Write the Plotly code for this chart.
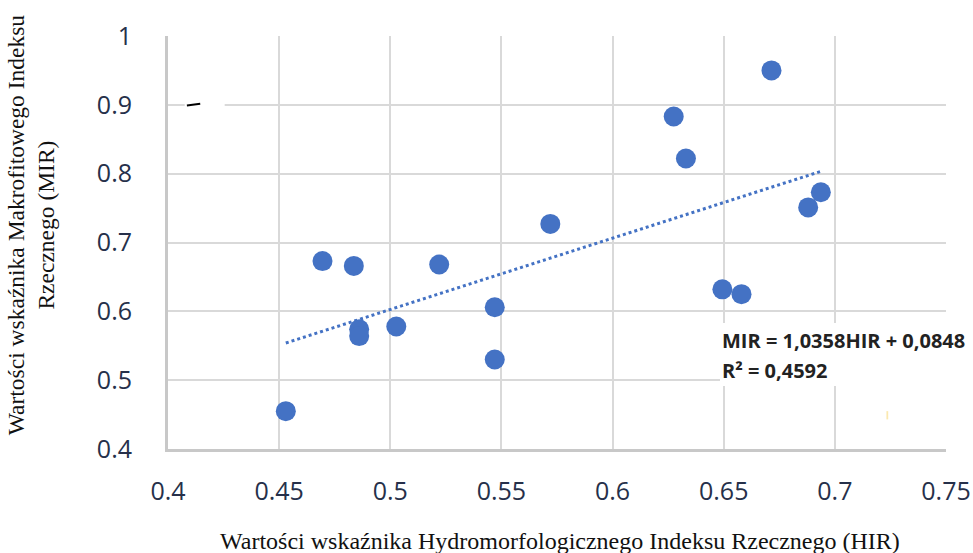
import plotly.graph_objects as go

# Data
hir = [0.453, 0.4695, 0.4836, 0.486, 0.486, 0.5027, 0.522, 0.547, 0.547, 0.572,
       0.6275, 0.633, 0.6494, 0.658, 0.6715, 0.688, 0.6937]
mir = [0.455, 0.673, 0.666, 0.574, 0.564, 0.578, 0.668, 0.606, 0.530, 0.727,
       0.883, 0.822, 0.632, 0.625, 0.950, 0.751, 0.773]

slope = 1.0358
intercept = 0.0848
eq_text = "MIR = 1,0358HIR + 0,0848"
r2_text = "R² = 0,4592"

x_ticks = [0.4, 0.45, 0.5, 0.55, 0.6, 0.65, 0.7, 0.75]
y_ticks = [0.4, 0.5, 0.6, 0.7, 0.8, 0.9, 1.0]
x_tick_labels = ["0.4", "0.45", "0.5", "0.55", "0.6", "0.65", "0.7", "0.75"]
y_tick_labels = ["0.4", "0.5", "0.6", "0.7", "0.8", "0.9", "1"]

x_title = "Wartości wskaźnika Hydromorfologicznego Indeksu Rzecznego (HIR)"
y_title = "Wartości wskaźnika Makrofitowego Indeksu<br>Rzecznego (MIR)"

blue = "#4472C4"
grid = "#d9d9d9"
tick_col = "#26304a"

x_min, x_max = min(hir), max(hir)
trend_x = [x_min, x_max]
trend_y = [slope * v + intercept for v in trend_x]

fig = go.Figure()
fig.add_trace(go.Scatter(
    x=trend_x, y=trend_y, mode="lines",
    line=dict(color=blue, width=3, dash="dot"),
    hoverinfo="skip", showlegend=False))
fig.add_trace(go.Scatter(
    x=hir, y=mir, mode="markers",
    marker=dict(color=blue, size=20, line=dict(width=0)),
    showlegend=False))

# white box behind the equation label (paper coordinates, may exceed plot)
fig.add_shape(type="rect", xref="paper", yref="paper",
              x0=(720 - 168) / 778, x1=(966 - 168) / 778,
              y0=(449 - 386) / 413, y1=(449 - 323) / 413,
              fillcolor="white", line=dict(width=0), layer="above")
# small artifacts of the original image
fig.add_shape(type="rect", xref="x", yref="y",
              x0=0.4075, x1=0.4255, y0=0.897, y1=0.903,
              fillcolor="white", line=dict(width=0), layer="above")
fig.add_shape(type="line", xref="x", yref="y",
              x0=0.4085, x1=0.4145, y0=0.899, y1=0.9015,
              line=dict(color="black", width=2), layer="above")
fig.add_shape(type="rect", xref="x", yref="y",
              x0=0.7232, x1=0.7240, y0=0.443, y1=0.455,
              fillcolor="#fbe9b0", line=dict(width=0), layer="above")

ann_x = (720 - 168) / 778
fig.add_annotation(x=ann_x, y=(449 - 340) / 413, xref="paper", yref="paper", text=eq_text,
                   showarrow=False, xanchor="left", yanchor="middle",
                   font=dict(family="Open Sans", size=20, color="#222222", weight="bold"))
fig.add_annotation(x=ann_x, y=(449 - 370) / 413, xref="paper", yref="paper", text=r2_text,
                   showarrow=False, xanchor="left", yanchor="middle",
                   font=dict(family="Open Sans", size=20, color="#222222", weight="bold"))

fig.add_annotation(x=-0.176, y=0.542, xref="paper", yref="paper", text=y_title,
                   showarrow=False, textangle=-90, xanchor="center", yanchor="middle",
                   font=dict(family="Liberation Serif", size=23.5, color="#111111"))
fig.add_annotation(x=0.504, y=-0.2228, xref="paper", yref="paper", text=x_title,
                   showarrow=False, xanchor="center", yanchor="middle",
                   font=dict(family="Liberation Serif", size=24, color="#111111"))

fig.update_xaxes(range=[0.4, 0.75], tickvals=x_ticks, ticktext=x_tick_labels,
                 showgrid=True, gridcolor=grid, gridwidth=2,
                 zeroline=False, showline=True, linecolor="#c8c8c8", linewidth=3,
                 ticks="", ticklabelstandoff=18,
                 tickfont=dict(family="Open Sans", size=25, color=tick_col))
fig.update_yaxes(range=[0.4, 1.0], tickvals=y_ticks, ticktext=y_tick_labels,
                 showgrid=True, gridcolor=grid, gridwidth=2,
                 zeroline=False, showline=True, linecolor="#c8c8c8", linewidth=3,
                 ticks="", ticklabelstandoff=28,
                 tickfont=dict(family="Open Sans", size=25, color=tick_col))

fig.update_layout(width=973, height=553,
                  margin=dict(l=168, r=27, t=36, b=104, autoexpand=False),
                  paper_bgcolor="white", plot_bgcolor="white")

fig.write_html("out.html")
